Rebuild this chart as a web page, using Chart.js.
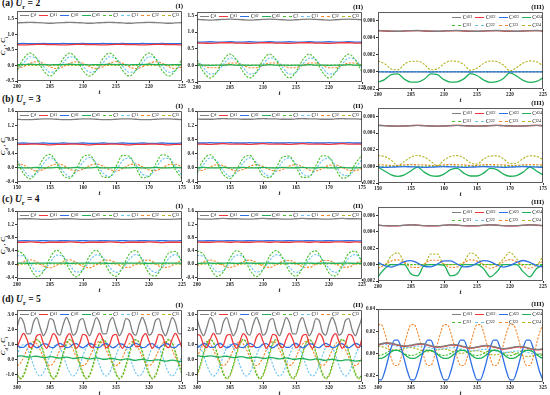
<!DOCTYPE html>
<html><head><meta charset="utf-8">
<script src="https://cdn.jsdelivr.net/npm/chart.js@4.4.0/dist/chart.umd.min.js"></script>
<style>
body{margin:0;width:550px;height:395px;position:relative;background:#fff;overflow:hidden;font-family:'Liberation Serif',serif;color:#111}
canvas{position:absolute}
.ttl{position:absolute;font-weight:bold;font-size:9.5px;white-space:nowrap}
.ttl sub{font-size:6.5px}
.tag{position:absolute;font-weight:bold;font-size:7px;transform:translateX(-100%)}
.tl{position:absolute;font-style:italic;font-weight:bold;font-size:7px;transform:translateX(-50%)}
.yl{position:absolute;font-style:italic;font-weight:bold;font-size:7px;white-space:nowrap;transform:translate(-50%,-50%) rotate(-90deg)}
.yl sub{font-size:5px}
.lg{position:absolute;display:flex;justify-content:space-between;font-size:5.5px;line-height:6px}
.lg3{position:absolute;display:grid;grid-template-columns:repeat(4,auto);column-gap:3px;row-gap:2px;font-size:5.5px;line-height:6px}
.it{display:flex;align-items:center;white-space:nowrap}
.it i{display:inline-block;width:9px;height:0;margin-right:1.5px}
.it sub{font-size:4px;vertical-align:-1px}
</style>
</head><body>
<div class="ttl" style="left:2px;top:-2px">(a) <i>U</i><sub>r</sub> = 2</div>
<div class="ttl" style="left:2px;top:94px">(b) <i>U</i><sub>r</sub> = 3</div>
<div class="ttl" style="left:2px;top:194px">(c) <i>U</i><sub>r</sub> = 4</div>
<div class="ttl" style="left:2px;top:294px">(d) <i>U</i><sub>r</sub> = 5</div>
<div class="yl" style="left:4px;top:46px">C<sub>d</sub> , C<sub>l</sub></div>
<div class="yl" style="left:4px;top:146px">C<sub>d</sub> , C<sub>l</sub></div>
<div class="yl" style="left:4px;top:245px">C<sub>d</sub> , C<sub>l</sub></div>
<div class="yl" style="left:4px;top:346px">C<sub>d</sub> , C<sub>l</sub></div>
<script>
// time axes
const tA = [200,201,202,203,204,205,206,207,208,209,210,211,212,213,214,215,216,217,218,219,220,221,222,223,224,225];
const tB = [150,151,152,153,154,155,156,157,158,159,160,161,162,163,164,165,166,167,168,169,170,171,172,173,174,175];
const tC = [200,201,202,203,204,205,206,207,208,209,210,211,212,213,214,215,216,217,218,219,220,221,222,223,224,225];
const tD = [300,300.5,301,301.5,302,302.5,303,303.5,304,304.5,305,305.5,306,306.5,307,307.5,308,308.5,309,309.5,310,310.5,311,311.5,312,312.5,313,313.5,314,314.5,315,315.5,316,316.5,317,317.5,318,318.5,319,319.5,320,320.5,321,321.5,322,322.5,323,323.5,324,324.5,325];

// legend subscripts
const LEG_MAIN = ['d','d1','d2','d3','l','l1','l2','l3'];
const LEG_SUB = ['d21','d22','d23','d24','l21','l22','l23','l24'];

// ---- row (a) Ur = 2 ----
const aI_cd  = [1.37,1.38,1.39,1.38,1.37,1.36,1.37,1.38,1.39,1.38,1.37,1.36,1.37,1.38,1.39,1.38,1.37,1.36,1.37,1.38,1.39,1.38,1.37,1.36,1.37,1.38];
const aI_cd1 = [0.67,0.66,0.67,0.68,0.68,0.67,0.67,0.66,0.67,0.68,0.68,0.67,0.67,0.66,0.67,0.68,0.68,0.67,0.67,0.66,0.67,0.68,0.68,0.67,0.67,0.66];
const aI_cd2 = [0.70,0.71,0.70,0.70,0.71,0.70,0.70,0.71,0.70,0.70,0.71,0.70,0.70,0.71,0.70,0.70,0.71,0.70,0.70,0.71,0.70,0.70,0.71,0.70,0.70,0.71];
const aI_cd3 = [0.03,0.03,0.04,0.03,0.03,0.02,0.03,0.03,0.04,0.03,0.03,0.02,0.03,0.03,0.04,0.03,0.03,0.02,0.03,0.03,0.04,0.03,0.03,0.02,0.03,0.03];
const aI_cl  = [-0.16,0.22,0.40,0.22,-0.16,-0.34,-0.16,0.22,0.40,0.22,-0.16,-0.34,-0.16,0.22,0.40,0.22,-0.16,-0.34,-0.16,0.22,0.40,0.22,-0.16,-0.34,-0.16,0.22];
const aI_cl1 = [-0.16,0.08,0.28,0.22,-0.02,-0.22,-0.16,0.08,0.28,0.22,-0.02,-0.22,-0.16,0.08,0.28,0.22,-0.02,-0.22,-0.16,0.08,0.28,0.22,-0.02,-0.22,-0.16,0.08];
const aI_cl2 = [-0.10,-0.04,0.07,0.12,0.07,-0.04,-0.10,-0.04,0.07,0.12,0.07,-0.04,-0.10,-0.04,0.07,0.12,0.07,-0.04,-0.10,-0.04,0.07,0.12,0.07,-0.04,-0.10,-0.04];
const aI_cl3 = [0.00,0.01,0.00,0.00,0.01,0.00,0.00,0.01,0.00,0.00,0.01,0.00,0.00,0.01,0.00,0.00,0.01,0.00,0.00,0.01,0.00,0.00,0.01,0.00,0.00,0.01];

const aII_cd  = [1.38,1.37,1.36,1.37,1.38,1.39,1.38,1.37,1.36,1.37,1.38,1.39,1.38,1.37,1.36,1.37,1.38,1.39,1.38,1.37,1.36,1.37,1.38,1.39,1.38,1.37];
const aII_cd1 = [0.67,0.67,0.66,0.67,0.68,0.68,0.67,0.67,0.66,0.67,0.68,0.68,0.67,0.67,0.66,0.67,0.68,0.68,0.67,0.67,0.66,0.67,0.68,0.68,0.67,0.67];
const aII_cd2 = [0.70,0.70,0.71,0.70,0.70,0.71,0.70,0.70,0.71,0.70,0.70,0.71,0.70,0.70,0.71,0.70,0.70,0.71,0.70,0.70,0.71,0.70,0.70,0.71,0.70,0.70];
const aII_cd3 = [0.01,0.01,0.00,0.01,0.01,0.02,0.01,0.01,0.00,0.01,0.01,0.02,0.01,0.01,0.00,0.01,0.01,0.02,0.01,0.01,0.00,0.01,0.01,0.02,0.01,0.01];
const aII_cl  = [0.16,-0.20,-0.38,-0.20,0.16,0.34,0.16,-0.20,-0.38,-0.20,0.16,0.34,0.16,-0.20,-0.38,-0.20,0.16,0.34,0.16,-0.20,-0.38,-0.20,0.16,0.34,0.16,-0.20];
const aII_cl1 = [0.17,-0.07,-0.26,-0.21,0.03,0.22,0.17,-0.07,-0.26,-0.21,0.03,0.22,0.17,-0.07,-0.26,-0.21,0.03,0.22,0.17,-0.07,-0.26,-0.21,0.03,0.22,0.17,-0.07];
const aII_cl2 = [0.07,0.00,-0.07,-0.07,0.00,0.07,0.07,0.00,-0.07,-0.07,0.00,0.07,0.07,0.00,-0.07,-0.07,0.00,0.07,0.07,0.00,-0.07,-0.07,0.00,0.07,0.07,0.00];
const aII_cl3 = [0.00,0.00,0.01,0.00,0.00,0.01,0.00,0.00,0.01,0.00,0.00,0.01,0.00,0.00,0.01,0.00,0.00,0.01,0.00,0.00,0.01,0.00,0.00,0.01,0.00,0.00];

const aIII_1 = [0.00485,0.00481,0.00477,0.00476,0.0048,0.00484,0.00485,0.00481,0.00477,0.00476,0.0048,0.00484,0.00485,0.00481,0.00477,0.00476,0.0048,0.00484,0.00485,0.00481,0.00477,0.00476,0.0048,0.00484,0.00485,0.00481];
const aIII_2 = [0.00483,0.00479,0.00476,0.00475,0.00478,0.00482,0.00483,0.00479,0.00476,0.00475,0.00478,0.00482,0.00483,0.00479,0.00476,0.00475,0.00478,0.00482,0.00483,0.00479,0.00476,0.00475,0.00478,0.00482,0.00483,0.00479];
const aIII_3 = [0.00001,0,-0.00001,0,0.00001,0,0.00001,0,-0.00001,0,0.00001,0,0.00001,0,-0.00001,0,0.00001,0,0.00001,0,-0.00001,0,0.00001,0,0.00001,0];
const aIII_4 = [-0.0012,-0.0009,-0.00033,-0.00024,-0.00085,-0.00119,-0.00119,-0.00086,-0.00024,-0.00033,-0.00091,-0.0012,-0.00117,-0.00082,-0.00019,-0.00042,-0.00095,-0.00122,-0.00115,-0.00077,-0.00011,-0.00048,-0.00099,-0.00123,-0.00112,-0.0007];
const aIII_5 = [0.00003,0.00003,0.00002,0.00003,0.00003,0.00004,0.00003,0.00003,0.00002,0.00003,0.00003,0.00004,0.00003,0.00003,0.00002,0.00003,0.00003,0.00004,0.00003,0.00003,0.00002,0.00003,0.00003,0.00004,0.00003,0.00003];
const aIII_6 = [0.00484,0.0048,0.00477,0.00477,0.00481,0.00485,0.00484,0.0048,0.00477,0.00477,0.00481,0.00485,0.00484,0.0048,0.00477,0.00477,0.00481,0.00485,0.00484,0.0048,0.00477,0.00477,0.00481,0.00485,0.00484,0.0048];
const aIII_7 = [0.00002,0.00001,0.00002,0.00003,0.00002,0.00001,0.00002,0.00001,0.00002,0.00003,0.00002,0.00001,0.00002,0.00001,0.00002,0.00003,0.00002,0.00001,0.00002,0.00001,0.00002,0.00003,0.00002,0.00001,0.00002,0.00001];
const aIII_8 = [0.00127,0.00096,0.00035,0.00025,0.0009,0.00125,0.00125,0.0009,0.00025,0.00035,0.00096,0.00127,0.00123,0.00086,0.0002,0.00044,0.001,0.00128,0.00121,0.00081,0.00012,0.00051,0.00104,0.00129,0.00118,0.00074];

// ---- row (b) Ur = 3 ----
const bI_cd  = [1.37,1.36,1.36,1.37,1.38,1.38,1.37,1.36,1.36,1.37,1.38,1.38,1.37,1.36,1.36,1.37,1.38,1.38,1.37,1.36,1.36,1.37,1.38,1.38,1.37,1.36];
const bI_cd1 = [0.66,0.66,0.67,0.67,0.66,0.65,0.66,0.66,0.67,0.67,0.66,0.65,0.66,0.66,0.67,0.67,0.66,0.65,0.66,0.66,0.67,0.67,0.66,0.65,0.66,0.66];
const bI_cd2 = [0.69,0.70,0.69,0.69,0.70,0.69,0.69,0.70,0.69,0.69,0.70,0.69,0.69,0.70,0.69,0.69,0.70,0.69,0.69,0.70,0.69,0.69,0.70,0.69,0.69,0.70];
const bI_cd3 = [0.01,0.00,0.00,0.01,0.00,0.00,0.01,0.00,0.00,0.01,0.00,0.00,0.01,0.00,0.00,0.01,0.00,0.00,0.01,0.00,0.00,0.01,0.00,0.00,0.01,0.00];
const bI_cl  = [0.19,-0.16,-0.31,-0.09,0.27,0.38,0.14,-0.21,-0.29,-0.03,0.31,0.36,0.08,-0.25,-0.27,0.04,0.35,0.33,0.01,-0.28,-0.24,0.10,0.37,0.30,-0.05,-0.30];
const bI_cl1 = [0.21,-0.06,-0.24,-0.15,0.12,0.29,0.17,-0.10,-0.25,-0.11,0.16,0.29,0.13,-0.14,-0.25,-0.07,0.20,0.28,0.09,-0.18,-0.23,-0.02,0.23,0.27,0.04,-0.21];
const bI_cl2 = [0.11,0.08,-0.02,-0.09,-0.05,0.05,0.11,0.07,-0.04,-0.09,-0.04,0.06,0.11,0.05,-0.05,-0.09,-0.02,0.08,0.11,0.03,-0.06,-0.08,0.00,0.09,0.10,0.02];
const bI_cl3 = [0.00,0.00,0.01,0.00,0.00,0.01,0.00,0.00,0.01,0.00,0.00,0.01,0.00,0.00,0.01,0.00,0.00,0.01,0.00,0.00,0.01,0.00,0.00,0.01,0.00,0.00];

const bII_cd  = [1.38,1.37,1.37,1.38,1.39,1.38,1.38,1.37,1.37,1.38,1.39,1.38,1.38,1.37,1.37,1.38,1.39,1.38,1.38,1.37,1.37,1.38,1.39,1.38,1.38,1.37];
const bII_cd1 = [0.67,0.67,0.66,0.67,0.68,0.67,0.67,0.67,0.66,0.67,0.68,0.67,0.67,0.67,0.66,0.67,0.68,0.67,0.67,0.67,0.66,0.67,0.68,0.67,0.67,0.67];
const bII_cd2 = [0.70,0.70,0.71,0.70,0.70,0.71,0.70,0.70,0.71,0.70,0.70,0.71,0.70,0.70,0.71,0.70,0.70,0.71,0.70,0.70,0.71,0.70,0.70,0.71,0.70,0.70];
const bII_cd3 = [0.00,0.01,0.00,0.00,0.01,0.00,0.00,0.01,0.00,0.00,0.01,0.00,0.00,0.01,0.00,0.00,0.01,0.00,0.00,0.01,0.00,0.00,0.01,0.00,0.00,0.01];
const bII_cl  = [-0.12,0.23,0.37,0.15,-0.19,-0.30,-0.06,0.27,0.35,0.09,-0.23,-0.28,0.00,0.31,0.33,0.03,-0.27,-0.26,0.06,0.34,0.30,-0.03,-0.29,-0.22,0.12,0.36];
const bII_cl1 = [-0.16,0.10,0.28,0.19,-0.08,-0.24,-0.13,0.14,0.28,0.15,-0.12,-0.24,-0.09,0.18,0.28,0.11,-0.16,-0.23,-0.04,0.21,0.27,0.06,-0.19,-0.22,0.00,0.24];
const bII_cl2 = [-0.09,-0.06,0.03,0.09,0.06,-0.03,-0.09,-0.05,0.04,0.09,0.04,-0.05,-0.09,-0.04,0.05,0.09,0.03,-0.06,-0.09,-0.02,0.07,0.08,0.01,-0.07,-0.08,-0.01];
const bII_cl3 = [0.00,0.00,0.01,0.00,0.00,0.01,0.00,0.00,0.01,0.00,0.00,0.01,0.00,0.00,0.01,0.00,0.00,0.01,0.00,0.00,0.01,0.00,0.00,0.01,0.00,0.00];

const bIII_1 = [0.00492,0.00489,0.00485,0.00483,0.00485,0.00489,0.00492,0.00489,0.00485,0.00483,0.00485,0.00489,0.00492,0.00489,0.00485,0.00483,0.00485,0.00489,0.00492,0.00489,0.00485,0.00483,0.00485,0.00489,0.00492,0.00489];
const bIII_2 = [0.00493,0.0049,0.00486,0.00484,0.00486,0.0049,0.00493,0.0049,0.00486,0.00484,0.00486,0.0049,0.00493,0.0049,0.00486,0.00484,0.00486,0.0049,0.00493,0.0049,0.00486,0.00484,0.00486,0.0049,0.00493,0.0049];
const bIII_3 = [-0.00008,-0.00012,-0.0001,-0.00005,-0.00003,-0.00006,-0.00008,-0.00012,-0.0001,-0.00005,-0.00003,-0.00006,-0.00008,-0.00012,-0.0001,-0.00005,-0.00003,-0.00006,-0.00008,-0.00012,-0.0001,-0.00005,-0.00003,-0.00006,-0.00008,-0.00012];
const bIII_4 = [-0.00008,-0.00055,-0.00102,-0.0012,-0.00102,-0.00055,-0.00008,-0.00069,-0.0011,-0.00119,-0.00093,-0.0004,-0.00024,-0.00082,-0.00116,-0.00116,-0.00082,-0.00024,-0.0004,-0.00093,-0.00119,-0.0011,-0.00069,-0.00008,-0.00055,-0.00102];
const bIII_5 = [0.00002,0.00002,0.00001,0.00002,0.00003,0.00002,0.00002,0.00002,0.00001,0.00002,0.00003,0.00002,0.00002,0.00002,0.00001,0.00002,0.00003,0.00002,0.00002,0.00002,0.00001,0.00002,0.00003,0.00002,0.00002,0.00002];
const bIII_6 = [0.00491,0.00488,0.00484,0.00483,0.00486,0.0049,0.00491,0.00488,0.00484,0.00483,0.00486,0.0049,0.00491,0.00488,0.00484,0.00483,0.00486,0.0049,0.00491,0.00488,0.00484,0.00483,0.00486,0.0049,0.00491,0.00488];
const bIII_7 = [0.0002,0.00018,0.0001,0.00012,0.0002,0.00022,0.0002,0.00018,0.0001,0.00012,0.0002,0.00022,0.0002,0.00018,0.0001,0.00012,0.0002,0.00022,0.0002,0.00018,0.0001,0.00012,0.0002,0.00022,0.0002,0.00018];
const bIII_8 = [0.00129,0.00119,0.00075,0.00009,0.0006,0.00111,0.0013,0.00111,0.0006,0.00009,0.00075,0.00119,0.00129,0.00101,0.00043,0.00027,0.00087,0.00125,0.00126,0.00091,0.00034,0.00039,0.00095,0.00127,0.00122,0.00081];

// ---- row (c) Ur = 4 ----
const cI_cd  = [1.36,1.37,1.37,1.36,1.35,1.35,1.36,1.37,1.37,1.36,1.35,1.35,1.36,1.37,1.37,1.36,1.35,1.35,1.36,1.37,1.37,1.36,1.35,1.35,1.36,1.37];
const cI_cd1 = [0.66,0.66,0.67,0.66,0.65,0.66,0.66,0.66,0.67,0.66,0.65,0.66,0.66,0.66,0.67,0.66,0.65,0.66,0.66,0.66,0.67,0.66,0.65,0.66,0.66,0.66];
const cI_cd2 = [0.70,0.71,0.70,0.70,0.71,0.70,0.70,0.71,0.70,0.70,0.71,0.70,0.70,0.71,0.70,0.70,0.71,0.70,0.70,0.71,0.70,0.70,0.71,0.70,0.70,0.71];
const cI_cd3 = [0.03,0.03,0.02,0.03,0.03,0.03,0.03,0.03,0.02,0.03,0.03,0.03,0.03,0.03,0.02,0.03,0.03,0.03,0.03,0.03,0.02,0.03,0.03,0.03,0.03,0.03];
const cI_cl  = [0.41,0.28,-0.12,-0.38,-0.22,0.19,0.42,0.23,-0.18,-0.38,-0.16,0.25,0.42,0.17,-0.23,-0.37,-0.10,0.30,0.41,0.11,-0.28,-0.36,-0.04,0.34,0.38,0.05];
const cI_cl1 = [0.25,0.25,0.01,-0.22,-0.20,0.05,0.27,0.23,-0.03,-0.24,-0.17,0.10,0.28,0.20,-0.08,-0.25,-0.14,0.14,0.29,0.16,-0.12,-0.25,-0.10,0.17,0.29,0.12];
const cI_cl2 = [-0.05,0.07,0.13,0.07,-0.06,-0.11,-0.04,0.08,0.13,0.05,-0.07,-0.11,-0.02,0.10,0.12,0.03,-0.09,-0.10,0.00,0.11,0.12,0.01,-0.10,-0.09,0.02,0.12];
const cI_cl3 = [0.00,0.00,0.01,0.00,0.00,0.01,0.00,0.00,0.01,0.00,0.00,0.01,0.00,0.00,0.01,0.00,0.00,0.01,0.00,0.00,0.01,0.00,0.00,0.01,0.00,0.00];

const cII_cd  = [1.37,1.36,1.36,1.37,1.38,1.37,1.37,1.36,1.36,1.37,1.38,1.37,1.37,1.36,1.36,1.37,1.38,1.37,1.37,1.36,1.36,1.37,1.38,1.37,1.37,1.36];
const cII_cd1 = [0.67,0.66,0.66,0.67,0.67,0.66,0.67,0.66,0.66,0.67,0.67,0.66,0.67,0.66,0.66,0.67,0.67,0.66,0.67,0.66,0.66,0.67,0.67,0.66,0.67,0.66];
const cII_cd2 = [0.70,0.70,0.71,0.70,0.70,0.71,0.70,0.70,0.71,0.70,0.70,0.71,0.70,0.70,0.71,0.70,0.70,0.71,0.70,0.70,0.71,0.70,0.70,0.71,0.70,0.70];
const cII_cd3 = [0.02,0.03,0.03,0.02,0.03,0.03,0.02,0.03,0.03,0.02,0.03,0.03,0.02,0.03,0.03,0.02,0.03,0.03,0.02,0.03,0.03,0.02,0.03,0.03,0.02,0.03];
const cII_cl  = [0.40,0.29,-0.11,-0.37,-0.23,0.18,0.41,0.24,-0.17,-0.38,-0.17,0.24,0.41,0.18,-0.22,-0.37,-0.11,0.29,0.40,0.12,-0.27,-0.36,-0.05,0.33,0.39,0.06];
const cII_cl1 = [0.26,0.24,0.00,-0.23,-0.19,0.06,0.27,0.22,-0.04,-0.24,-0.16,0.11,0.28,0.19,-0.09,-0.25,-0.13,0.15,0.29,0.15,-0.13,-0.25,-0.09,0.18,0.29,0.11];
const cII_cl2 = [-0.05,0.06,0.12,0.07,-0.05,-0.10,-0.04,0.07,0.12,0.05,-0.06,-0.10,-0.02,0.09,0.11,0.03,-0.08,-0.10,0.00,0.10,0.11,0.01,-0.09,-0.09,0.02,0.11];
const cII_cl3 = [0.00,0.00,0.01,0.00,0.00,0.01,0.00,0.00,0.01,0.00,0.00,0.01,0.00,0.00,0.01,0.00,0.00,0.01,0.00,0.00,0.01,0.00,0.00,0.01,0.00,0.00];

const cIII_1 = [0.0048,0.00475,0.00472,0.00474,0.00479,0.00485,0.0048,0.00475,0.00472,0.00474,0.00479,0.00485,0.0048,0.00475,0.00472,0.00474,0.00479,0.00485,0.0048,0.00475,0.00472,0.00474,0.00479,0.00485,0.0048,0.00475];
const cIII_2 = [0.00479,0.00474,0.00471,0.00473,0.00478,0.00484,0.00479,0.00474,0.00471,0.00473,0.00478,0.00484,0.00479,0.00474,0.00471,0.00473,0.00478,0.00484,0.00479,0.00474,0.00471,0.00473,0.00478,0.00484,0.00479,0.00474];
const cIII_3 = [0.00028,-0.00013,-0.0003,-0.00003,0.00037,0.00049,0.00018,-0.00021,-0.00027,0.00007,0.00044,0.00044,0.00007,-0.00027,-0.00021,0.00018,0.00049,0.00037,-0.00003,-0.0003,-0.00013,0.00028,0.0005,0.00028,-0.00013,-0.0003];
const cIII_4 = [-0.00149,-0.0005,0,0,0,-0.00116,-0.00138,-0.0001,0,0,-0.0001,-0.00138,-0.00116,0,0,0,-0.0005,-0.00149,-0.00087,0,0,0,-0.00086,-0.00149,-0.0005,0];
const cIII_5 = [0.00001,0.00001,0,0.00001,0.00001,0,0.00001,0.00001,0,0.00001,0.00001,0,0.00001,0.00001,0,0.00001,0.00001,0,0.00001,0.00001,0,0.00001,0.00001,0,0.00001,0.00001];
const cIII_6 = [0.00481,0.00476,0.00473,0.00475,0.0048,0.00486,0.00481,0.00476,0.00473,0.00475,0.0048,0.00486,0.00481,0.00476,0.00473,0.00475,0.0048,0.00486,0.00481,0.00476,0.00473,0.00475,0.0048,0.00486,0.00481,0.00476];
const cIII_7 = [-0.00045,-0.00007,0.00044,0.00058,0.0002,-0.00029,-0.00036,0.00007,0.00053,0.00053,0.00007,-0.00036,-0.00029,0.0002,0.00058,0.00044,-0.00007,-0.00045,-0.00019,0.00033,0.0006,0.00033,-0.00019,-0.00045,-0.00007,0.00044];
const cIII_8 = [0,0,0.00102,0.00144,0.0003,0,0,0,0.00128,0.00128,0,0,0,0.0003,0.00144,0.00102,0,0,0,0.00069,0.0015,0.00069,0,0,0,0.00102];

// ---- row (d) Ur = 5 ----
const dI_cd  = [2.16,2.80,2.49,1.72,1.72,2.49,2.80,2.16,1.59,1.99,2.73,2.62,1.84,1.63,2.33,2.82,2.33,1.63,1.84,2.62,2.73,1.99,1.59,2.16,2.80,2.48,1.72,1.72,2.49,2.80,2.16,1.59,1.99,2.73,2.62,1.84,1.63,2.33,2.82,2.33,1.63,1.84,2.62,2.73,1.99,1.59,2.16,2.80,2.48,1.72,1.72];
const dI_cd1 = [0.79,1.35,1.75,1.36,0.79,0.96,1.59,1.68,1.09,0.75,1.21,1.73,1.48,0.86,0.86,1.48,1.73,1.22,0.75,1.08,1.68,1.59,0.96,0.79,1.35,1.75,1.36,0.79,0.96,1.59,1.68,1.09,0.75,1.21,1.73,1.48,0.86,0.86,1.48,1.73,1.22,0.75,1.08,1.68,1.59,0.96,0.79,1.35,1.75,1.36,0.79];
const dI_cd2 = [1.00,0.81,0.81,1.00,1.07,0.92,0.78,0.88,1.06,1.03,0.84,0.79,0.96,1.08,0.96,0.79,0.84,1.03,1.06,0.88,0.78,0.92,1.07,1.00,0.81,0.81,1.00,1.07,0.92,0.78,0.88,1.06,1.03,0.84,0.79,0.96,1.08,0.96,0.79,0.84,1.03,1.06,0.88,0.78,0.92,1.07,1.00,0.81,0.81,1.00,1.07];
const dI_cd3 = [0.22,0.25,0.23,0.17,0.16,0.21,0.22,0.17,0.13,0.15,0.19,0.18,0.12,0.10,0.14,0.16,0.13,0.07,0.08,0.13,0.13,0.07,0.04,0.07,0.11,0.08,0.02,0.02,0.06,0.07,0.03,-0.02,0.00,0.04,0.03,-0.03,-0.05,-0.01,0.02,-0.02,-0.07,-0.07,-0.02,-0.02,-0.08,-0.11,-0.08,-0.04,-0.07,-0.12,-0.13];
const dI_cl  = [-1.0,-1.25,-1.0,-0.35,0.45,1.1,1.35,1.1,0.45,-0.35,-1.0,-1.25,-1.0,-0.35,0.45,1.1,1.35,1.1,0.45,-0.35,-1.0,-1.25,-1.0,-0.35,0.45,1.1,1.35,1.1,0.45,-0.35,-1.0,-1.25,-1.0,-0.35,0.45,1.1,1.35,1.1,0.45,-0.35,-1.0,-1.25,-1.0,-0.35,0.45,1.1,1.35,1.1,0.45,-0.35,-1.0];
const dI_cl1 = [0.27,0.8,1.0,0.8,0.27,-0.37,-0.9,-1.1,-0.9,-0.37,0.27,0.8,1.0,0.8,0.27,-0.37,-0.9,-1.1,-0.9,-0.37,0.27,0.8,1.0,0.8,0.27,-0.37,-0.9,-1.1,-0.9,-0.37,0.27,0.8,1.0,0.8,0.27,-0.37,-0.9,-1.1,-0.9,-0.37,0.27,0.8,1.0,0.8,0.27,-0.37,-0.9,-1.1,-0.9,-0.37,0.27];
const dI_cl2 = [-0.4,-0.25,0.15,0.65,1.05,1.2,1.05,0.65,0.15,-0.25,-0.4,-0.25,0.15,0.65,1.05,1.2,1.05,0.65,0.15,-0.25,-0.4,-0.25,0.15,0.65,1.05,1.2,1.05,0.65,0.15,-0.25,-0.4,-0.25,0.15,0.65,1.05,1.2,1.05,0.65,0.15,-0.25,-0.4,-0.25,0.15,0.65,1.05,1.2,1.05,0.65,0.15,-0.25,-0.4];
const dI_cl3 = [-0.85,-1.3,-1.1,-0.5,0.3,1.0,1.3,1.15,0.55,-0.2,-0.85,-1.3,-1.1,-0.5,0.3,1.0,1.3,1.15,0.55,-0.2,-0.85,-1.3,-1.1,-0.5,0.3,1.0,1.3,1.15,0.55,-0.2,-0.85,-1.3,-1.1,-0.5,0.3,1.0,1.3,1.15,0.55,-0.2,-0.85,-1.3,-1.1,-0.5,0.3,1.0,1.3,1.15,0.55,-0.2,-0.85];

const dII_cd  = [2.73,1.99,1.59,2.16,2.80,2.49,1.72,1.72,2.49,2.80,2.16,1.59,1.99,2.73,2.62,1.84,1.63,2.33,2.82,2.33,1.63,1.84,2.62,2.73,1.99,1.59,2.16,2.80,2.48,1.72,1.72,2.49,2.80,2.16,1.59,1.99,2.73,2.62,1.84,1.63,2.33,2.82,2.33,1.63,1.84,2.62,2.73,1.99,1.59,2.16,2.80];
const dII_cd1 = [1.68,1.59,0.96,0.79,1.35,1.75,1.36,0.79,0.96,1.59,1.68,1.09,0.75,1.21,1.73,1.48,0.86,0.86,1.48,1.73,1.22,0.75,1.08,1.68,1.59,0.96,0.79,1.35,1.75,1.36,0.79,0.96,1.59,1.68,1.09,0.75,1.21,1.73,1.48,0.86,0.86,1.48,1.73,1.22,0.75,1.08,1.68,1.59,0.96,0.79,1.35];
const dII_cd2 = [0.78,0.92,1.07,1.00,0.81,0.81,1.00,1.07,0.92,0.78,0.88,1.06,1.03,0.84,0.79,0.96,1.08,0.96,0.79,0.84,1.03,1.06,0.88,0.78,0.92,1.07,1.00,0.81,0.81,1.00,1.07,0.92,0.78,0.88,1.06,1.03,0.84,0.79,0.96,1.08,0.96,0.79,0.84,1.03,1.06,0.88,0.78,0.92,1.07,1.00,0.81];
const dII_cd3 = [0.26,0.23,0.20,0.22,0.25,0.23,0.17,0.16,0.21,0.22,0.17,0.13,0.15,0.19,0.18,0.12,0.10,0.14,0.16,0.13,0.07,0.08,0.13,0.13,0.07,0.04,0.07,0.11,0.08,0.02,0.02,0.06,0.07,0.03,-0.02,0.00,0.04,0.03,-0.03,-0.05,-0.01,0.02,-0.02,-0.07,-0.07,-0.02,-0.02,-0.08,-0.11,-0.08,-0.04];
const dII_cl  = [-1.0,-0.35,0.45,1.1,1.35,1.1,0.45,-0.35,-1.0,-1.25,-1.0,-0.35,0.45,1.1,1.35,1.1,0.45,-0.35,-1.0,-1.25,-1.0,-0.35,0.45,1.1,1.35,1.1,0.45,-0.35,-1.0,-1.25,-1.0,-0.35,0.45,1.1,1.35,1.1,0.45,-0.35,-1.0,-1.25,-1.0,-0.35,0.45,1.1,1.35,1.1,0.45,-0.35,-1.0,-1.25,-1.0];
const dII_cl1 = [1.0,0.8,0.27,-0.37,-0.9,-1.1,-0.9,-0.37,0.27,0.8,1.0,0.8,0.27,-0.37,-0.9,-1.1,-0.9,-0.37,0.27,0.8,1.0,0.8,0.27,-0.37,-0.9,-1.1,-0.9,-0.37,0.27,0.8,1.0,0.8,0.27,-0.37,-0.9,-1.1,-0.9,-0.37,0.27,0.8,1.0,0.8,0.27,-0.37,-0.9,-1.1,-0.9,-0.37,0.27,0.8,1.0];
const dII_cl2 = [0.15,0.65,1.05,1.2,1.05,0.65,0.15,-0.25,-0.4,-0.25,0.15,0.65,1.05,1.2,1.05,0.65,0.15,-0.25,-0.4,-0.25,0.15,0.65,1.05,1.2,1.05,0.65,0.15,-0.25,-0.4,-0.25,0.15,0.65,1.05,1.2,1.05,0.65,0.15,-0.25,-0.4,-0.25,0.15,0.65,1.05,1.2,1.05,0.65,0.15,-0.25,-0.4,-0.25,0.15];
const dII_cl3 = [-1.1,-0.5,0.3,1.0,1.3,1.15,0.55,-0.2,-0.85,-1.3,-1.1,-0.5,0.3,1.0,1.3,1.15,0.55,-0.2,-0.85,-1.3,-1.1,-0.5,0.3,1.0,1.3,1.15,0.55,-0.2,-0.85,-1.3,-1.1,-0.5,0.3,1.0,1.3,1.15,0.55,-0.2,-0.85,-1.3,-1.1,-0.5,0.3,1.0,1.3,1.15,0.55,-0.2,-0.85,-1.3,-1.1];

const dIII_1 = [0.0081,0.0088,0.0093,0.0095,0.0092,0.0085,0.0077,0.0070,0.0067,0.0068,0.0073,0.0080,0.0085,0.0087,0.0084,0.0077,0.0069,0.0062,0.0059,0.0060,0.0065,0.0072,0.0077,0.0079,0.0076,0.0069,0.0061,0.0054,0.0051,0.0052,0.0057,0.0064,0.0069,0.0071,0.0068,0.0061,0.0053,0.0046,0.0043,0.0044,0.0049,0.0056,0.0061,0.0063,0.0060,0.0053,0.0045,0.0038,0.0035,0.0036,0.0041];
const dIII_2 = [0.0077,0.0084,0.0089,0.0091,0.0088,0.0081,0.0073,0.0066,0.0063,0.0064,0.0069,0.0076,0.0081,0.0083,0.0080,0.0073,0.0065,0.0058,0.0055,0.0056,0.0061,0.0068,0.0073,0.0075,0.0072,0.0065,0.0057,0.0050,0.0047,0.0048,0.0053,0.0060,0.0065,0.0067,0.0064,0.0057,0.0049,0.0042,0.0039,0.0040,0.0045,0.0052,0.0057,0.0059,0.0056,0.0049,0.0041,0.0034,0.0031,0.0032,0.0037];
const dIII_3 = [-0.024,-0.024,-0.017,-0.006,0.005,0.012,0.012,0.005,-0.006,-0.017,-0.024,-0.024,-0.017,-0.006,0.005,0.012,0.012,0.005,-0.006,-0.017,-0.024,-0.024,-0.017,-0.006,0.005,0.012,0.012,0.005,-0.006,-0.017,-0.024,-0.024,-0.017,-0.006,0.005,0.012,0.012,0.005,-0.006,-0.017,-0.024,-0.024,-0.017,-0.006,0.005,0.012,0.012,0.005,-0.006,-0.017,-0.024];
const dIII_4 = [-0.0046,-0.0046,-0.0032,-0.001,0.0012,0.0026,0.0026,0.0012,-0.001,-0.0032,-0.0046,-0.0046,-0.0032,-0.001,0.0012,0.0026,0.0026,0.0012,-0.001,-0.0032,-0.0046,-0.0046,-0.0032,-0.001,0.0012,0.0026,0.0026,0.0012,-0.001,-0.0032,-0.0046,-0.0046,-0.0032,-0.001,0.0012,0.0026,0.0026,0.0012,-0.001,-0.0032,-0.0046,-0.0046,-0.0032,-0.001,0.0012,0.0026,0.0026,0.0012,-0.001,-0.0032,-0.0046];
const dIII_5 = [-0.002,-0.0015,-0.0003,0.0013,0.0025,0.003,0.0025,0.0013,-0.0003,-0.0015,-0.002,-0.0015,-0.0003,0.0013,0.0025,0.003,0.0025,0.0013,-0.0003,-0.0015,-0.002,-0.0015,-0.0003,0.0013,0.0025,0.003,0.0025,0.0013,-0.0003,-0.0015,-0.002,-0.0015,-0.0003,0.0013,0.0025,0.003,0.0025,0.0013,-0.0003,-0.0015,-0.002,-0.0015,-0.0003,0.0013,0.0025,0.003,0.0025,0.0013,-0.0003,-0.0015,-0.002];
const dIII_6 = [0.0072,0.0077,0.0080,0.0081,0.0077,0.0071,0.0063,0.0056,0.0053,0.0053,0.0057,0.0062,0.0065,0.0066,0.0062,0.0056,0.0048,0.0041,0.0038,0.0038,0.0042,0.0047,0.0050,0.0051,0.0047,0.0041,0.0033,0.0026,0.0023,0.0023,0.0027,0.0032,0.0035,0.0036,0.0032,0.0026,0.0018,0.0011,0.0008,0.0008,0.0012,0.0017,0.0020,0.0021,0.0017,0.0011,0.0003,-0.0004,-0.0007,-0.0007,-0.0003];
const dIII_7 = [0.026,0.026,0.019,0.008,-0.004,-0.011,-0.011,-0.004,0.008,0.019,0.026,0.026,0.019,0.008,-0.004,-0.011,-0.011,-0.004,0.008,0.019,0.026,0.026,0.019,0.008,-0.004,-0.011,-0.011,-0.004,0.008,0.019,0.026,0.026,0.019,0.008,-0.004,-0.011,-0.011,-0.004,0.008,0.019,0.026,0.026,0.019,0.008,-0.004,-0.011,-0.011,-0.004,0.008,0.019,0.026];
const dIII_8 = [0.0065,0.0061,0.0052,0.0041,0.0032,0.0028,0.0030,0.0036,0.0043,0.0050,0.0051,0.0047,0.0038,0.0027,0.0018,0.0014,0.0016,0.0022,0.0029,0.0036,0.0037,0.0033,0.0024,0.0013,0.0004,0.0000,0.0002,0.0008,0.0015,0.0022,0.0023,0.0019,0.0010,-0.0001,-0.0010,-0.0014,-0.0013,-0.0006,0.0001,0.0008,0.0009,0.0005,-0.0004,-0.0015,-0.0024,-0.0028,-0.0027,-0.0020,-0.0013,-0.0007,-0.0005];

const COLORS = ['#7f7f7f','#f0373a','#2d6fe6','#1fb05a','#45c02a','#6cc3ef','#f5862a','#b3b321'];
const TICKFONT = {family:'Liberation Serif', size:5.2, weight:'bold'};

const framePlugin = {
  id:'frame',
  afterDraw(c){
    const a = c.chartArea, x = c.ctx;
    x.save();
    x.strokeStyle = '#333';
    x.lineWidth = 0.8;
    x.strokeRect(a.left+0.5, a.top+0.5, a.right-a.left-1, a.bottom-a.top-1);
    x.restore();
  }
};

function legendHtml(labels, main){
  const box = document.createElement('div');
  box.className = main ? 'lg' : 'lg3';
  labels.forEach((s,i)=>{
    const it = document.createElement('span');
    it.className = 'it';
    const ln = document.createElement('i');
    ln.style.borderTop = (i<4 ? '1.2px solid ' : '1px dashed ') + COLORS[i];
    it.appendChild(ln);
    it.appendChild(document.createTextNode('C'));
    const sb = document.createElement('sub');
    sb.textContent = s;
    it.appendChild(sb);
    box.appendChild(it);
  });
  return box;
}

function makePanel(p){
  const main = p.leg === LEG_MAIN;
  const YW = main ? 17 : 22, XH = 9, PT = 4, PR = 6;
  const w = YW + (p.R-p.L) + PR, h = PT + (p.B-p.T) + XH;
  const cv = document.createElement('canvas');
  cv.width = w; cv.height = h;
  cv.style.left = (p.L-YW)+'px';
  cv.style.top = (p.T-PT)+'px';
  document.body.appendChild(cv);

  new Chart(cv, {
    type:'line',
    data:{datasets: p.s.map((ys,i)=>({
      data: ys.map((y,k)=>({x:p.t[k], y:y})),
      borderColor: COLORS[i],
      borderWidth: i<4 ? 1.3 : 1.1,
      borderDash: i<4 ? [] : [2.2,1.4],
      pointRadius:0,
      cubicInterpolationMode:'monotone',
      fill:false
    }))},
    options:{
      responsive:false, animation:false, devicePixelRatio:1,
      layout:{padding:{top:PT, right:PR, left:0, bottom:0}},
      plugins:{legend:{display:false}, tooltip:{enabled:false}},
      scales:{
        x:{type:'linear', min:p.x[0], max:p.x[1],
           ticks:{stepSize:5, font:TICKFONT, color:'#222', padding:1, maxRotation:0, includeBounds:false},
           grid:{drawOnChartArea:false, tickLength:2, color:'#333'},
           border:{display:false},
           afterFit:s=>{s.height = XH;}},
        y:{min:p.y[0], max:p.y[1],
           ticks:{stepSize:p.y[2], font:TICKFONT, color:'#222', padding:1, includeBounds:false,
                  callback:v=>v.toFixed(p.y[3])},
           grid:{drawOnChartArea:false, tickLength:2, color:'#333'},
           border:{display:false},
           afterFit:s=>{s.width = YW;}}
      }
    },
    plugins:[framePlugin]
  });

  const tag = document.createElement('div');
  tag.className = 'tag';
  tag.textContent = p.tag;
  tag.style.left = (p.R+1)+'px';
  tag.style.top = (p.T-9)+'px';
  document.body.appendChild(tag);

  const tl = document.createElement('div');
  tl.className = 'tl';
  tl.textContent = 't';
  tl.style.left = ((p.L+p.R)/2)+'px';
  tl.style.top = (p.B+7)+'px';
  document.body.appendChild(tl);

  const lg = legendHtml(p.leg, main);
  if (main){
    lg.style.left = (p.L+3)+'px';
    lg.style.width = (p.R-p.L-6)+'px';
    lg.style.top = (p.T+1)+'px';
  } else {
    lg.style.left = (p.L+0.45*(p.R-p.L))+'px';
    lg.style.top = (p.T+2)+'px';
  }
  document.body.appendChild(lg);
}

const PANELS = [
  {L:17, T:11, R:182, B:81, t:tA, x:[200,225], y:[-0.5,1.75,0.5,1], tag:'(I)', leg:LEG_MAIN,
   s:[aI_cd,aI_cd1,aI_cd2,aI_cd3,aI_cl,aI_cl1,aI_cl2,aI_cl3]},
  {L:197, T:12, R:362, B:82, t:tA, x:[200,225], y:[-0.5,1.6,0.5,1], tag:'(II)', leg:LEG_MAIN,
   s:[aII_cd,aII_cd1,aII_cd2,aII_cd3,aII_cl,aII_cl1,aII_cl2,aII_cl3]},
  {L:378, T:12, R:543, B:89, t:tA, x:[200,225], y:[-0.002,0.007,0.002,3], tag:'(III)', leg:LEG_SUB,
   s:[aIII_1,aIII_2,aIII_3,aIII_4,aIII_5,aIII_6,aIII_7,aIII_8]},

  {L:17, T:111, R:182, B:182, t:tB, x:[150,175], y:[-0.4,1.6,0.4,1], tag:'(I)', leg:LEG_MAIN,
   s:[bI_cd,bI_cd1,bI_cd2,bI_cd3,bI_cl,bI_cl1,bI_cl2,bI_cl3]},
  {L:197, T:111, R:362, B:182, t:tB, x:[150,175], y:[-0.4,1.6,0.4,1], tag:'(II)', leg:LEG_MAIN,
   s:[bII_cd,bII_cd1,bII_cd2,bII_cd3,bII_cl,bII_cl1,bII_cl2,bII_cl3]},
  {L:378, T:108, R:543, B:183, t:tB, x:[150,175], y:[-0.002,0.007,0.002,3], tag:'(III)', leg:LEG_SUB,
   s:[bIII_1,bIII_2,bIII_3,bIII_4,bIII_5,bIII_6,bIII_7,bIII_8]},

  {L:17, T:211, R:182, B:279, t:tC, x:[200,225], y:[-0.45,1.6,0.4,1], tag:'(I)', leg:LEG_MAIN,
   s:[cI_cd,cI_cd1,cI_cd2,cI_cd3,cI_cl,cI_cl1,cI_cl2,cI_cl3]},
  {L:197, T:211, R:362, B:279, t:tC, x:[200,225], y:[-0.45,1.6,0.4,1], tag:'(II)', leg:LEG_MAIN,
   s:[cII_cd,cII_cd1,cII_cd2,cII_cd3,cII_cl,cII_cl1,cII_cl2,cII_cl3]},
  {L:378, T:207, R:543, B:281, t:tC, x:[200,225], y:[-0.002,0.007,0.002,3], tag:'(III)', leg:LEG_SUB,
   s:[cIII_1,cIII_2,cIII_3,cIII_4,cIII_5,cIII_6,cIII_7,cIII_8]},

  {L:17, T:310, R:182, B:382, t:tD, x:[300,325], y:[-1.5,3.3,1,1], tag:'(I)', leg:LEG_MAIN,
   s:[dI_cd,dI_cd1,dI_cd2,dI_cd3,dI_cl,dI_cl1,dI_cl2,dI_cl3]},
  {L:197, T:310, R:362, B:382, t:tD, x:[300,325], y:[-1.5,3.3,1,1], tag:'(II)', leg:LEG_MAIN,
   s:[dII_cd,dII_cd1,dII_cd2,dII_cd3,dII_cl,dII_cl1,dII_cl2,dII_cl3]},
  {L:378, T:309, R:543, B:382, t:tD, x:[300,325], y:[-0.026,0.04,0.02,2], tag:'(III)', leg:LEG_SUB,
   s:[dIII_1,dIII_2,dIII_3,dIII_4,dIII_5,dIII_6,dIII_7,dIII_8]}
];

PANELS.forEach(makePanel);
</script>
</body></html>
